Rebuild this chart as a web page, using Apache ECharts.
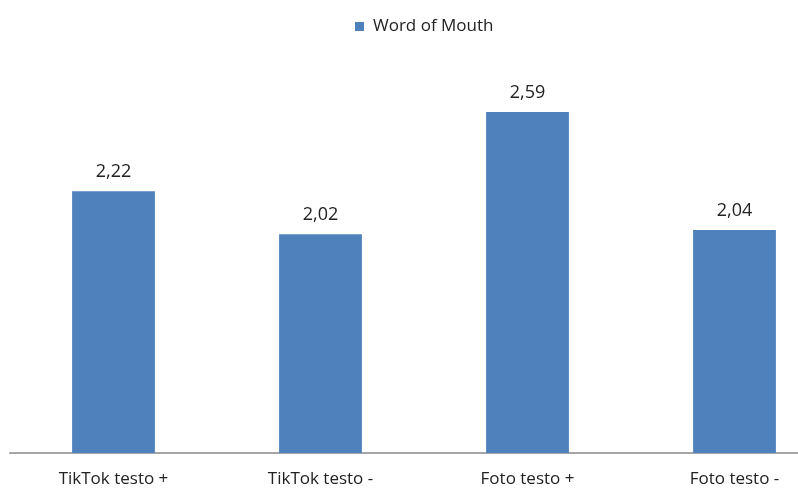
<!DOCTYPE html>
<html>
<head>
<meta charset="utf-8">
<script src="https://cdn.jsdelivr.net/npm/echarts@6/dist/echarts.min.js"></script>
<style>
  html, body { margin: 0; padding: 0; background: #fff; overflow: hidden; }
  /* plot runs past the right edge in the original, so the canvas is wider than the window */
  #chart { width: 838px; height: 489px; }
</style>
</head>
<body>
<div id="chart"></div>
<script>
const categories = ["TikTok testo +", "TikTok testo -", "Foto testo +", "Foto testo -"];
const seriesName = "Word of Mouth";
const values = [2.22, 2.02, 2.59, 2.04];

const myChart = echarts.init(document.getElementById("chart"));
const font = "'Open Sans', sans-serif";

const option = {
  backgroundColor: "#ffffff",
  animation: false,
  legend: {
    top: 13,
    left: 350,
    itemWidth: 9,
    itemHeight: 9,
    icon: "rect",
    itemGap: 8,
    textStyle: { color: "#222", fontSize: 17, fontFamily: font, padding: [0, 0, 0, 4] },
    data: [seriesName],
  },
  grid: {
    left: 10,
    right: 0,
    top: 24,
    bottom: 36,
  },
  xAxis: {
    type: "category",
    data: categories,
    axisLine: { show: true, lineStyle: { color: "#a6a6a6", width: 2 } },
    axisTick: { show: false },
    axisLabel: { color: "#222", fontSize: 17, fontFamily: font, margin: 18 },
  },
  yAxis: {
    type: "value",
    min: 1,
    max: 3,
    show: false,
    splitLine: { show: false },
  },
  series: [
    {
      name: seriesName,
      type: "bar",
      barWidth: "40%",
      data: values,
      itemStyle: { color: "#4f81bd" },
      label: {
        show: true,
        position: "top",
        distance: 10,
        color: "#222",
        fontSize: 18,
        fontFamily: font,
        formatter: (p) => p.value.toFixed(2).replace(".", ","),
      },
    },
  ],
};
myChart.setOption(option);
</script>
</body>
</html>
